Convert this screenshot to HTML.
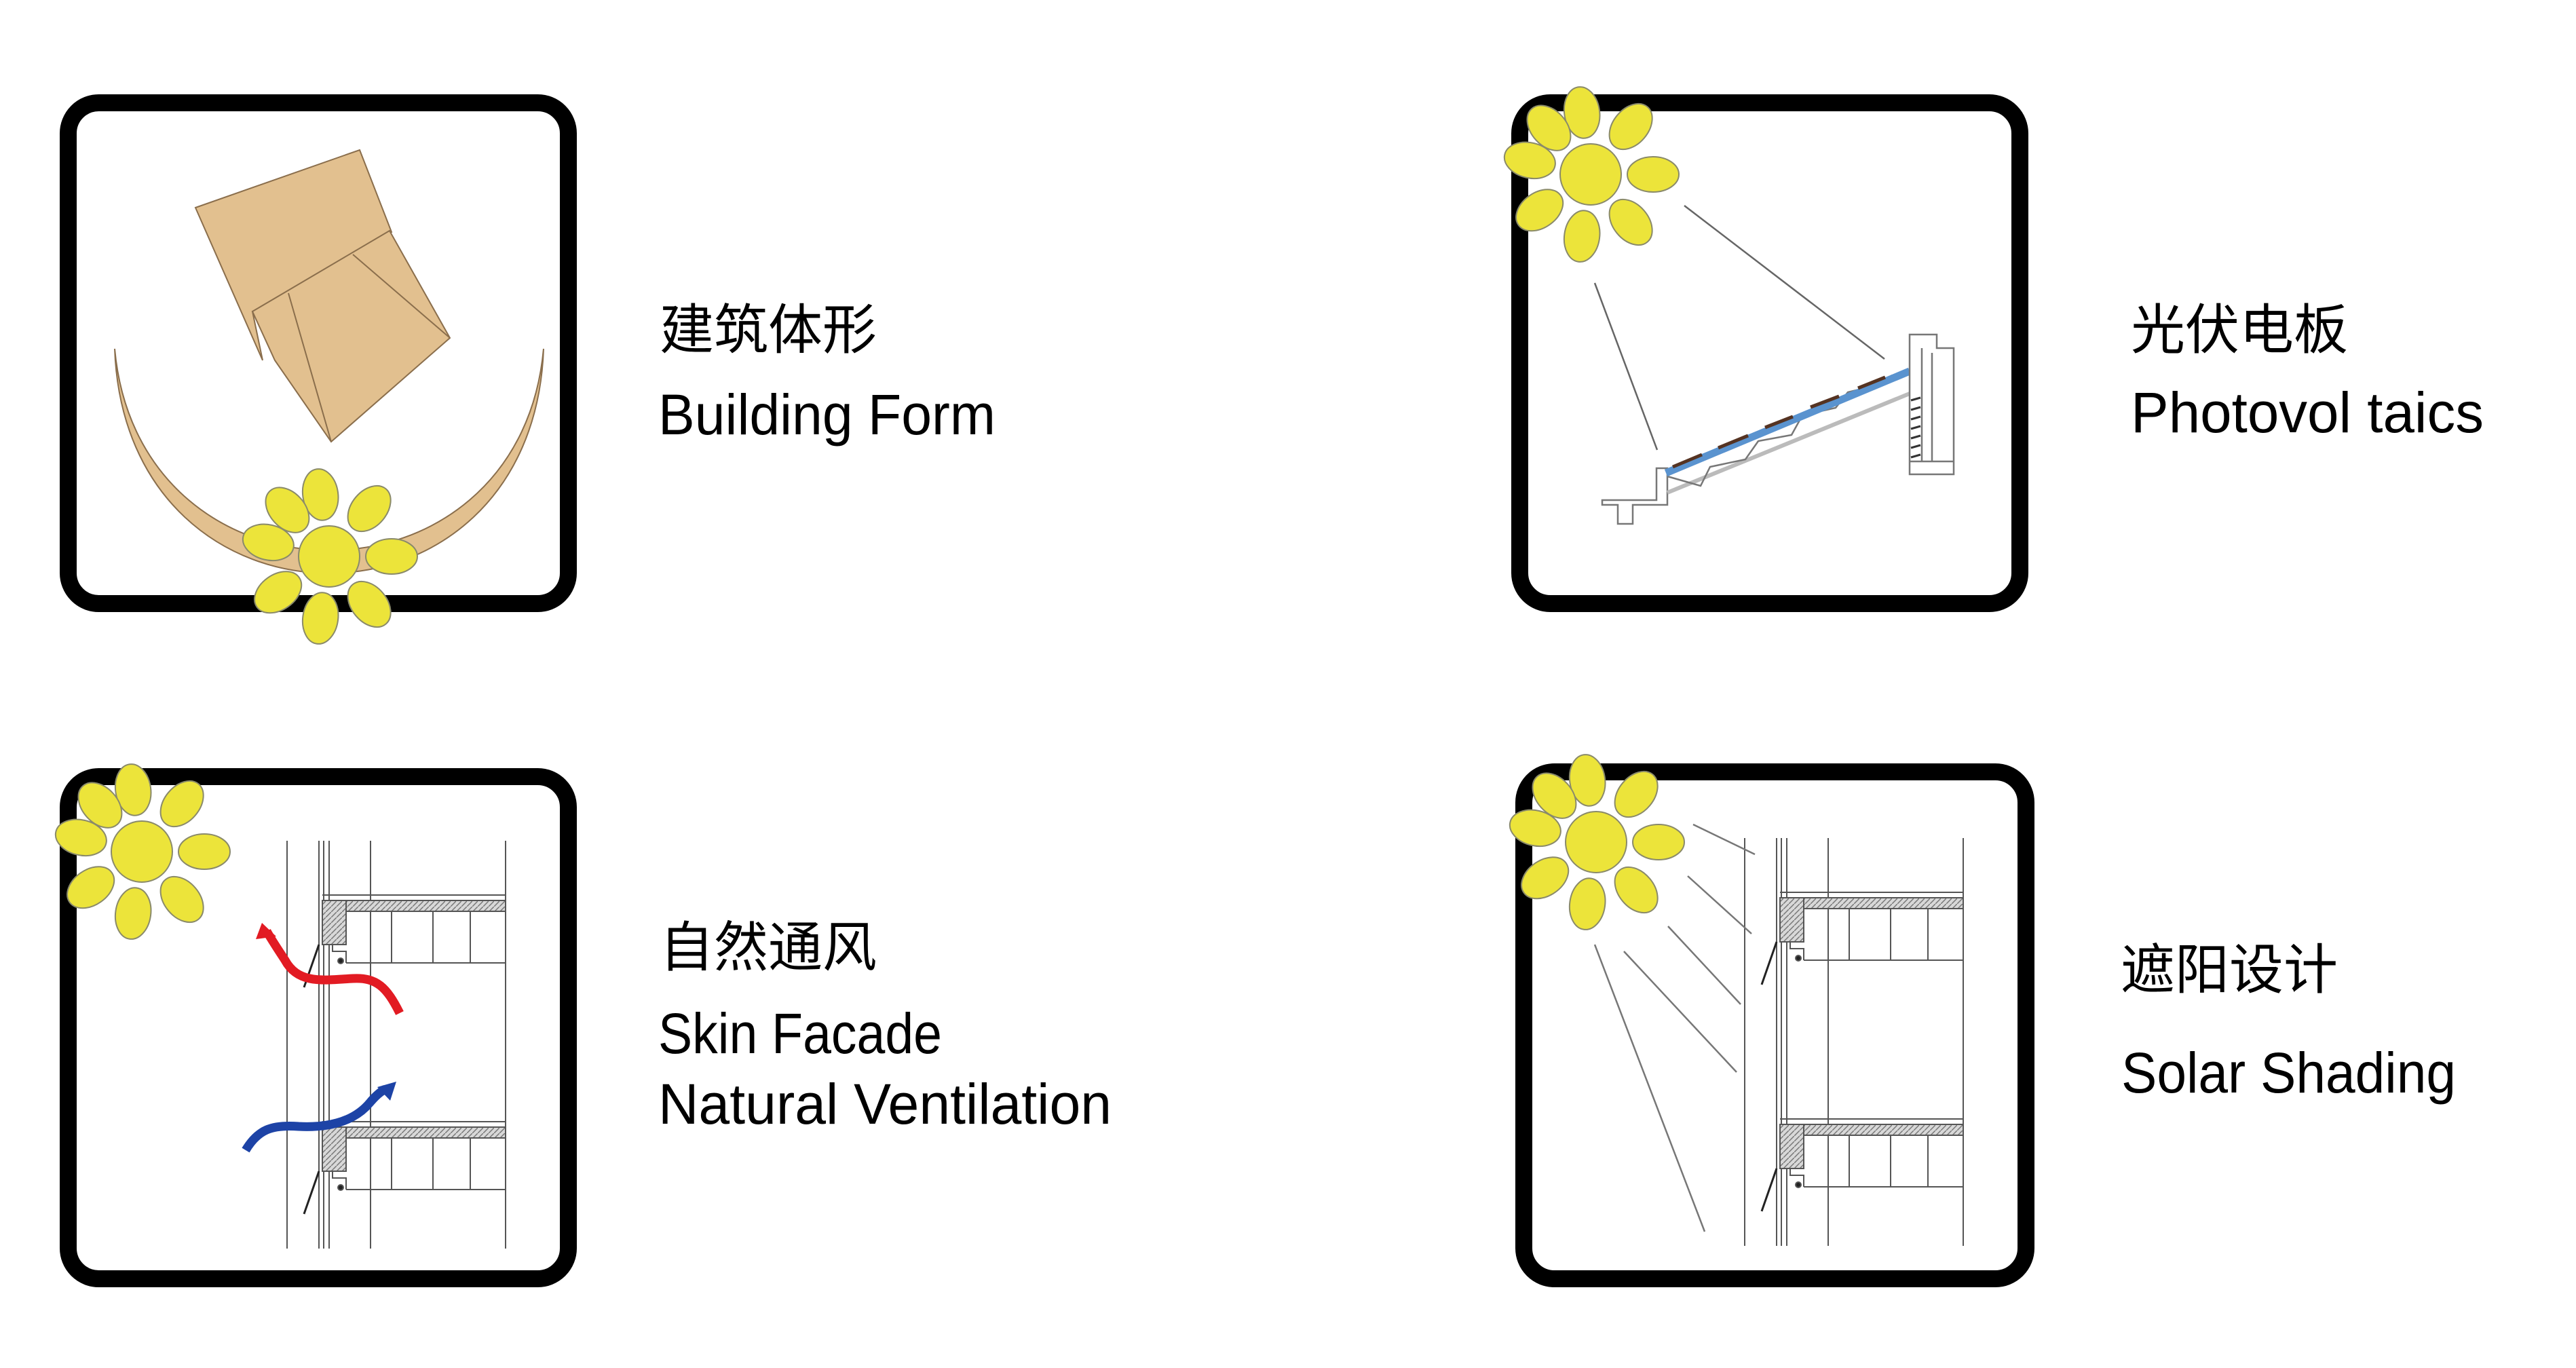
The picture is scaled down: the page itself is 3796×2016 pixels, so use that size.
<!DOCTYPE html>
<html><head><meta charset="utf-8"><style>
html,body{margin:0;padding:0;background:#fff;}
svg{display:block;}
.cn{font-family:"Liberation Sans","Noto Sans CJK SC",sans-serif;font-size:80px;fill:#000;}
.en{font-family:"Liberation Sans","Noto Sans CJK SC",sans-serif;font-size:84px;fill:#000;}
</style></head><body>
<svg width="3796" height="2016" viewBox="0 0 3796 2016" xmlns="http://www.w3.org/2000/svg">
<defs>
<pattern id="hatch" width="8" height="8" patternUnits="userSpaceOnUse">
<rect width="8" height="8" fill="#d8d8d8"/><path d="M0,8 L8,0" stroke="#777" stroke-width="1.5"/>
</pattern>
<g id="sun">
<g fill="#ece43a" stroke="#8a8a6a" stroke-width="2">
<ellipse cx="0" cy="-92" rx="26" ry="38" transform="rotate(-8)"/>
<ellipse cx="0" cy="-92" rx="26" ry="38" transform="rotate(40)"/>
<ellipse cx="0" cy="-92" rx="26" ry="38" transform="rotate(90)"/>
<ellipse cx="0" cy="-92" rx="26" ry="38" transform="rotate(140)"/>
<ellipse cx="0" cy="-92" rx="26" ry="38" transform="rotate(188)"/>
<ellipse cx="0" cy="-92" rx="26" ry="38" transform="rotate(235)"/>
<ellipse cx="0" cy="-92" rx="26" ry="38" transform="rotate(283)"/>
<ellipse cx="0" cy="-92" rx="26" ry="38" transform="rotate(318)"/>
<circle cx="0" cy="0" r="45"/>
</g>
</g>
<g id="facade" stroke="#555" stroke-width="2" fill="none">
<line x1="423" y1="1239" x2="423" y2="1840"/>
<line x1="470" y1="1239" x2="470" y2="1840"/>
<line x1="477" y1="1239" x2="477" y2="1840"/>
<line x1="485" y1="1239" x2="485" y2="1840"/>
<line x1="546" y1="1239" x2="546" y2="1840"/>
<line x1="745" y1="1239" x2="745" y2="1840"/>
<g id="slab">
<line x1="475" y1="1319" x2="745" y2="1319"/>
<rect x="485" y="1327" width="260" height="16" fill="url(#hatch)"/>
<rect x="475" y="1327" width="35" height="65" fill="url(#hatch)"/>
<line x1="510" y1="1419" x2="745" y2="1419"/>
<line x1="577" y1="1343" x2="577" y2="1419"/>
<line x1="638" y1="1343" x2="638" y2="1419"/>
<line x1="693" y1="1343" x2="693" y2="1419"/>
<path d="M490,1392 L490,1402 L510,1402 L510,1419"/>
<line x1="470" y1="1392" x2="448" y2="1455" stroke="#222" stroke-width="3"/>
<circle cx="502" cy="1416" r="4" fill="#222"/>
</g>
<use href="#slab" transform="translate(0,334)"/>
</g>
</defs>

<!-- Box 1 -->
<rect x="100.5" y="151.5" width="737" height="738" rx="45" fill="#fff" stroke="#000" stroke-width="25"/>
<path d="M288,306 L530,221 L577,342 L372,459 L387,531 Z" fill="#e2c08f" stroke="#8a6e4c" stroke-width="2"/>
<path d="M372,459 L574,340 L663,498 L488,651 L405,531 Z" fill="#e2c08f" stroke="#8a6e4c" stroke-width="2"/>
<line x1="425" y1="432" x2="488" y2="651" stroke="#8a6e4c" stroke-width="2"/>
<line x1="520" y1="375" x2="663" y2="498" stroke="#8a6e4c" stroke-width="2"/>
<path d="M169,514 C185,955 785,955 801,514 C765,910 205,910 169,514 Z" fill="#e2c08f" stroke="#8a6e4c" stroke-width="2"/>
<use href="#sun" transform="translate(485,820)"/>

<!-- Box 2 -->
<rect x="2239.5" y="151.5" width="737" height="738" rx="45" fill="#fff" stroke="#000" stroke-width="25"/>
<use href="#sun" transform="translate(2344,257)"/>
<line x1="2350" y1="417" x2="2442" y2="663" stroke="#666" stroke-width="2.5"/>
<line x1="2482" y1="303" x2="2777" y2="529" stroke="#666" stroke-width="2.5"/>
<g fill="none" stroke="#777" stroke-width="2.5">
<path d="M2361,737 L2441,737 L2441,690 L2457,690 L2457,744 L2406,744 L2406,772 L2384,772 L2384,744 L2361,744 Z" fill="#fff"/>
<line x1="2457" y1="726" x2="2814" y2="580" stroke="#bbb" stroke-width="6"/>
<path d="M2457,702 L2506,716 L2520,688 L2572,677 L2591,650 L2640,641 L2656,612 L2705,601 L2723,578 L2765,568 L2788,553"/>
<line x1="2455" y1="697" x2="2814" y2="547" stroke="#5a93cf" stroke-width="11"/>
<g stroke="#553322" stroke-width="5">
<line x1="2465" y1="688" x2="2508" y2="670"/><line x1="2532" y1="660" x2="2576" y2="642"/>
<line x1="2601" y1="630" x2="2642" y2="614"/><line x1="2668" y1="600" x2="2710" y2="584"/>
<line x1="2738" y1="572" x2="2778" y2="556"/>
</g>
<path d="M2814,493 L2854,493 L2854,513 L2879,513 L2879,699 L2814,699 Z" fill="#fff"/>
<line x1="2832" y1="513" x2="2832" y2="680"/>
<line x1="2847" y1="520" x2="2847" y2="680"/>
<line x1="2814" y1="680" x2="2879" y2="680"/>
<g stroke="#333" stroke-width="3">
<line x1="2816" y1="590" x2="2830" y2="586"/><line x1="2816" y1="604" x2="2830" y2="600"/>
<line x1="2816" y1="618" x2="2830" y2="614"/><line x1="2816" y1="632" x2="2830" y2="628"/>
<line x1="2816" y1="646" x2="2830" y2="642"/><line x1="2816" y1="660" x2="2830" y2="656"/>
<line x1="2816" y1="674" x2="2830" y2="670"/>
</g>
</g>

<!-- Box 3 -->
<rect x="100.5" y="1144.5" width="737" height="740" rx="45" fill="#fff" stroke="#000" stroke-width="25"/>
<use href="#facade"/>
<path d="M589,1493 C570,1455 555,1440 520,1442 C480,1444 440,1452 420,1415 C405,1392 397,1380 393,1372" fill="none" stroke="#e21b23" stroke-width="13"/>
<polygon points="386,1360 407,1380 377,1384" fill="#e21b23"/>
<path d="M362,1695 C380,1665 400,1657 440,1660 C480,1662 520,1655 545,1625 C555,1613 562,1608 568,1605" fill="none" stroke="#1d43a6" stroke-width="13"/>
<polygon points="584,1594 575,1622 556,1602" fill="#1d43a6"/>
<use href="#sun" transform="translate(209,1255)"/>

<!-- Box 4 -->
<rect x="2245.5" y="1137.5" width="740" height="747" rx="45" fill="#fff" stroke="#000" stroke-width="25"/>
<use href="#facade" transform="translate(2148,-4)"/>
<g stroke="#777" stroke-width="2.5">
<line x1="2495" y1="1215" x2="2586" y2="1259"/>
<line x1="2487" y1="1291" x2="2581" y2="1376"/>
<line x1="2458" y1="1365" x2="2565" y2="1480"/>
<line x1="2393" y1="1402" x2="2559" y2="1580"/>
<line x1="2350" y1="1392" x2="2512" y2="1815"/>
</g>
<use href="#sun" transform="translate(2352,1241)"/>

<!-- Text -->
<text class="cn" x="972" y="514">建筑体形</text>
<text class="en" x="970" y="640" textLength="497" lengthAdjust="spacingAndGlyphs">Building Form</text>
<text class="cn" x="3140" y="514">光伏电板</text>
<text class="en" x="3140" y="637" textLength="520" lengthAdjust="spacingAndGlyphs">Photovol taics</text>
<text class="cn" x="972" y="1424">自然通风</text>
<text class="en" x="970" y="1552" textLength="418" lengthAdjust="spacingAndGlyphs">Skin Facade</text>
<text class="en" x="970" y="1656" textLength="668" lengthAdjust="spacingAndGlyphs">Natural Ventilation</text>
<text class="cn" x="3125" y="1457">遮阳设计</text>
<text class="en" x="3126" y="1610" textLength="493" lengthAdjust="spacingAndGlyphs">Solar Shading</text>
</svg>
</body></html>
